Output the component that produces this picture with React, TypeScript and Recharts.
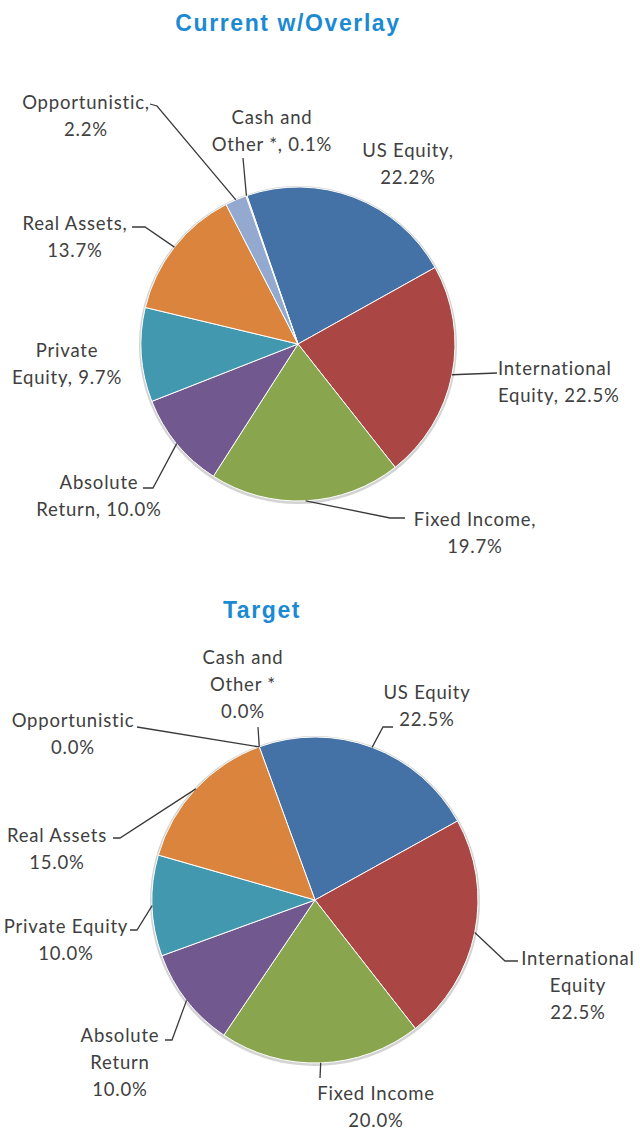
import React from 'react'
import { PieChart, Pie, Cell } from 'recharts'

const categories = [
  'US Equity',
  'International Equity',
  'Fixed Income',
  'Absolute Return',
  'Private Equity',
  'Real Assets',
  'Opportunistic',
  'Cash and Other *',
]
const currentValues = [22.2, 22.5, 19.7, 10.0, 9.7, 13.7, 2.2, 0.1]
const targetValues = [22.5, 22.5, 20.0, 10.0, 10.0, 15.0, 0.0, 0.0]
const colors = ['#4472A7', '#AA4643', '#89A54E', '#71588F', '#4198AF', '#DB843D', '#93A9CF', '#D19392']

// label text, {v} gets the formatted value
const currentLabels = [
  ['US Equity,', '{v}'],
  ['International', 'Equity, {v}'],
  ['Fixed Income,', '{v}'],
  ['Absolute', 'Return, {v}'],
  ['Private', 'Equity, {v}'],
  ['Real Assets,', '{v}'],
  ['Opportunistic,', '{v}'],
  ['Cash and', 'Other *, {v}'],
]
const targetLabels = [
  ['US Equity', '{v}'],
  ['International', 'Equity', '{v}'],
  ['Fixed Income', '{v}'],
  ['Absolute', 'Return', '{v}'],
  ['Private Equity', '{v}'],
  ['Real Assets', '{v}'],
  ['Opportunistic', '{v}'],
  ['Cash and', 'Other *', '{v}'],
]

type Place = { x: number; y: number; anchor: 'start' | 'middle' | 'end'; path: number[][] }

// label placement relative to the pie centre
const currentPlaces: Place[] = [
  { x: 110, y: -194, anchor: 'middle', path: [] },
  { x: 200, y: 24, anchor: 'start', path: [[199, 29]] },
  { x: 177, y: 175, anchor: 'middle', path: [[92, 174], [107, 174]] },
  { x: -199, y: 138, anchor: 'middle', path: [[-145, 144], [-155, 144]] },
  { x: -231, y: 6, anchor: 'middle', path: [] },
  { x: -223, y: -121, anchor: 'middle', path: [[-153, -117], [-166, -117]] },
  { x: -212, y: -242, anchor: 'middle', path: [[-141, -238], [-148, -240]] },
  { x: -26, y: -227, anchor: 'middle', path: [[-55, -186]] },
]
const targetPlaces: Place[] = [
  { x: 112, y: -208, anchor: 'middle', path: [[68, -173], [78, -173]] },
  { x: 263, y: 58, anchor: 'middle', path: [[190, 61], [203, 61]] },
  { x: 61, y: 193, anchor: 'middle', path: [[5, 178]] },
  { x: -195, y: 135, anchor: 'middle', path: [[-143, 140], [-150, 140]] },
  { x: -249, y: 26, anchor: 'middle', path: [[-178, 30], [-185, 30]] },
  { x: -258, y: -65, anchor: 'middle', path: [[-195, -62], [-202, -62]] },
  { x: -242, y: -180, anchor: 'middle', path: [[-178, -173]] },
  { x: -72, y: -243, anchor: 'middle', path: [[-57, -173]] },
]

const FONT = 'Lato, "Open Sans", sans-serif'
const LINE_H = 27

function makeLabel(places: Place[], texts: string[][]) {
  return (props: any) => {
    const { cx, cy, midAngle, outerRadius, index, value } = props
    const rad = Math.PI / 180
    const ex = cx + outerRadius * Math.cos(-midAngle * rad)
    const ey = cy + outerRadius * Math.sin(-midAngle * rad)
    const p = places[index]
    const pts = [[ex, ey], ...p.path.map(([x, y]) => [cx + x, cy + y])]
    const v = `${Number(value).toFixed(1)}%`
    return (
      <g key={`lbl-${index}`}>
        {pts.length > 1 && (
          <polyline points={pts.map((q) => q.join(',')).join(' ')} fill="none" stroke="#3a3a3a" strokeWidth={1.3} />
        )}
        <text
          x={cx + p.x}
          y={cy + p.y}
          textAnchor={p.anchor}
          fill="#404040"
          fontFamily={FONT}
          fontSize={18.5}
          letterSpacing={0.8}
          dominantBaseline="central"
        >
          {texts[index].map((t, i) => (
            <tspan key={i} x={cx + p.x} dy={i === 0 ? 0 : LINE_H}>
              {t.replace('{v}', v)}
            </tspan>
          ))}
        </text>
      </g>
    )
  }
}

const currentData = categories.map((name, i) => ({ name, value: currentValues[i] }))
const targetData = categories.map((name, i) => ({ name, value: targetValues[i] }))
const rimData = [{ name: 'rim', value: 100 }]

export default function App() {
  return (
    <div style={{ position: 'absolute', left: 0, top: 0, width: 640, height: 1130, background: '#fff' }}>
      <PieChart width={640} height={1130} margin={{ top: 0, right: 0, bottom: 0, left: 0 }}>
        <Pie data={rimData} dataKey="value" cx={298} cy={345} outerRadius={159} fill="#d4d4d4" stroke="none" isAnimationActive={false} />
        <Pie
          data={currentData}
          dataKey="value"
          cx={298}
          cy={344}
          outerRadius={157}
          startAngle={109}
          endAngle={-251}
          stroke="#fff"
          strokeWidth={1}
          label={makeLabel(currentPlaces, currentLabels)}
          labelLine={false}
          isAnimationActive={false}
        >
          {currentData.map((d, i) => (
            <Cell key={d.name} fill={colors[i]} />
          ))}
        </Pie>
        <Pie data={rimData} dataKey="value" cx={315} cy={901} outerRadius={165} fill="#d4d4d4" stroke="none" isAnimationActive={false} />
        <Pie
          data={targetData}
          dataKey="value"
          cx={315}
          cy={900}
          outerRadius={163}
          startAngle={110}
          endAngle={-250}
          stroke="#fff"
          strokeWidth={1}
          label={makeLabel(targetPlaces, targetLabels)}
          labelLine={false}
          isAnimationActive={false}
        >
          {targetData.map((d, i) => (
            <Cell key={d.name} fill={colors[i]} />
          ))}
        </Pie>
      </PieChart>
      <svg width={640} height={1130} style={{ position: 'absolute', left: 0, top: 0, pointerEvents: 'none' }}>
        <text x={288} y={31} textAnchor="middle" fill="#1B8AD3" fontFamily='"Liberation Sans", Arial, sans-serif' fontWeight="bold" fontSize={23} letterSpacing={1.6}>
          Current w/Overlay
        </text>
        <text x={262} y={618} textAnchor="middle" fill="#1B8AD3" fontFamily='"Liberation Sans", Arial, sans-serif' fontWeight="bold" fontSize={23} letterSpacing={1.6}>
          Target
        </text>
      </svg>
    </div>
  )
}
